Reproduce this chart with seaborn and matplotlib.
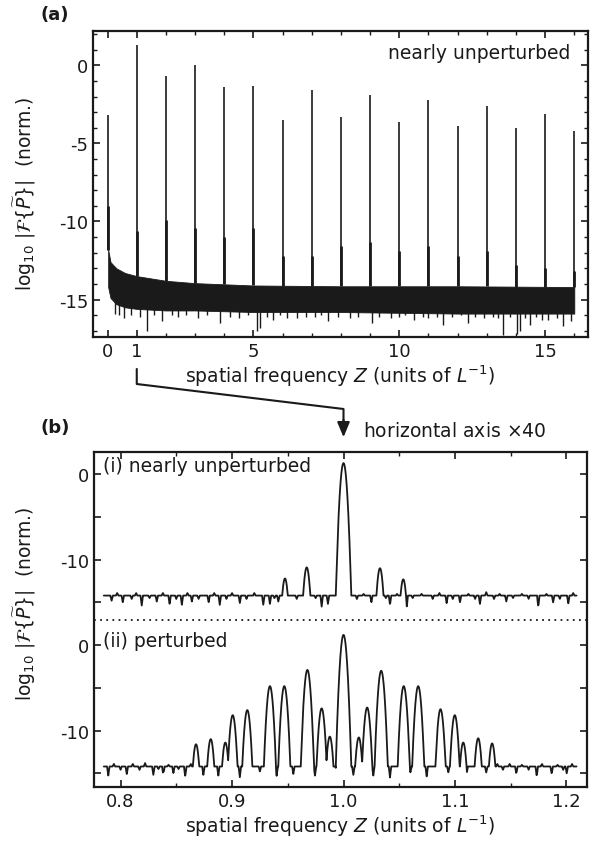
import numpy as np
import pandas as pd
import matplotlib
matplotlib.use('Agg')
import matplotlib.pyplot as plt
from matplotlib.lines import Line2D
from matplotlib.ticker import MultipleLocator, FixedLocator, FixedFormatter
import seaborn as sns

# ---- (a) full spectrum: comb peaks at integer Z ----
peak_z = list(range(17))
peak_top = [-3.2, 1.3, -0.7, 0.0, -1.4, -1.3, -3.5, -1.6, -3.3, -1.9, -3.6,
            -2.2, -3.9, -2.6, -4.0, -3.1, -4.2]
peak_base = [-9.0, -10.6, -9.9, -10.4, -11.0, -10.4, -12.2, -12.2, -11.6, -11.3,
             -11.9, -11.6, -12.2, -11.9, -12.8, -13.0, -13.2]
# noise band (upper / lower envelope)
band_z = [0.02, 0.1, 0.3, 0.6, 1, 2, 3, 5, 8, 12, 16]
band_hi = [-11.8, -12.6, -13.0, -13.3, -13.5, -13.8, -13.95, -14.1, -14.15, -14.15, -14.2]
band_lo = [-14.2, -14.9, -15.3, -15.5, -15.6, -15.7, -15.7, -15.8, -15.8, -15.9, -15.9]
# downward spikes in the noise
spike_z = [0.26, 0.4, 0.55, 0.8, 1.1, 1.34, 1.6, 1.86, 2.2, 2.4, 2.7, 3.1, 3.4, 3.86,
           4.2, 4.5, 4.8, 5.11, 5.23, 5.45, 5.68, 5.9, 6.14, 6.48, 6.8, 7.1, 7.3, 7.57,
           7.9, 8.3, 8.6, 9.06, 9.3, 9.7, 10.0, 10.2, 10.49, 10.8, 11.0, 11.3, 11.51,
           11.8, 12.1, 12.37, 12.6, 12.9, 13.2, 13.4, 13.57, 13.8, 14.03, 14.14, 14.3,
           14.48, 14.7, 14.9, 15.1, 15.4, 15.63, 15.88]
spike_y = [-15.9, -16.0, -16.2, -16.0, -16.1, -17.0, -16.0, -16.4, -16.0, -16.1, -16.0,
           -16.2, -16.0, -16.5, -16.1, -16.2, -16.0, -17.0, -16.8, -16.1, -16.3, -16.0,
           -16.2, -16.2, -16.1, -16.1, -16.0, -16.4, -16.1, -16.2, -16.1, -16.5, -16.1,
           -16.2, -16.1, -16.0, -16.3, -16.1, -16.2, -16.1, -16.6, -16.1, -16.0, -16.5,
           -16.1, -16.2, -16.1, -16.2, -17.3, -16.1, -17.2, -17.0, -16.2, -16.6, -16.1,
           -16.3, -16.3, -16.2, -16.7, -16.4]

# ---- (b) zoom around Z = 1 ----
# (i) nearly unperturbed
unpert_z = [0.9475, 0.967, 1.0, 1.0327, 1.0536]
unpert_h = [-12.2, -10.9, 1.3, -11.0, -12.3]
unpert_dip_z = [0.792, 0.797, 0.802, 0.810, 0.814, 0.819, 0.826, 0.8325, 0.838, 0.844,
                0.850, 0.855, 0.860, 0.864, 0.870, 0.879, 0.884, 0.889, 0.895, 0.900,
                0.907, 0.913, 0.920, 0.928, 0.934, 0.938, 0.9415, 0.958, 0.975, 0.9804,
                0.986, 1.012, 1.018, 1.025, 1.038, 1.0417, 1.048, 1.0567, 1.062, 1.070,
                1.080, 1.086, 1.0925, 1.098, 1.1045, 1.112, 1.118, 1.1224, 1.128, 1.135,
                1.140, 1.146, 1.152, 1.160, 1.166, 1.1747, 1.182, 1.188, 1.194, 1.2016,
                1.206]
unpert_dip_y = [-14.8, -13.9, -15.0, -14.6, -13.9, -15.4, -14.5, -14.9, -13.9, -15.2,
                -14.6, -15.3, -13.9, -14.9, -14.6, -15.0, -13.9, -15.3, -14.6, -13.9,
                -15.1, -14.6, -13.9, -15.3, -15.2, -14.5, -14.9, -14.6, -14.5, -15.5,
                -15.2, -14.6, -14.0, -15.0, -14.5, -15.3, -14.0, -15.6, -14.5, -14.0,
                -14.6, -13.9, -15.1, -14.6, -15.0, -14.0, -14.6, -15.2, -13.8, -14.6,
                -14.0, -14.9, -14.5, -14.0, -14.6, -15.6, -14.0, -15.0, -14.6, -15.2,
                -13.9]
# (ii) perturbed
pert_z = [0.8677, 0.8809, 0.894, 0.9006, 0.9137, 0.934, 0.9469, 0.9676, 0.9804, 0.9877,
          1.0, 1.0137, 1.0212, 1.0338, 1.054, 1.067, 1.087, 1.0998, 1.1074, 1.1208, 1.1333]
pert_h = [-11.6, -11.0, -11.4, -8.2, -7.6, -4.8, -4.8, -2.9, -7.4, -10.7,
          1.2, -10.8, -7.3, -3.0, -4.8, -4.8, -7.5, -8.2, -11.4, -10.9, -11.5]
pert_dip_z = [0.789, 0.794, 0.800, 0.8056, 0.811, 0.817, 0.822, 0.8294, 0.834, 0.8384,
              0.843, 0.8474, 0.852, 0.858, 0.863, 0.8743, 0.8877, 0.907, 0.925, 0.940,
              0.955, 0.9744, 0.9939, 1.0088, 1.0267, 1.0417, 1.060, 1.0746, 1.094,
              1.1105, 1.128, 1.138, 1.143, 1.149, 1.155, 1.160, 1.166, 1.1733, 1.178,
              1.1867, 1.192, 1.197, 1.2002, 1.205]
pert_dip_y = [-15.3, -13.9, -14.6, -15.1, -13.9, -14.6, -13.8, -15.2, -14.5, -15.4,
              -14.0, -15.0, -14.5, -15.4, -13.9, -15.2, -15.3, -15.5, -14.8, -15.3,
              -15.1, -15.3, -15.0, -15.2, -15.3, -15.5, -14.9, -15.4, -14.9, -15.0,
              -14.9, -13.9, -14.6, -13.9, -15.1, -14.0, -14.6, -15.4, -13.9, -15.1,
              -14.0, -14.6, -15.0, -13.9]
floor_level = -14.2
offset_i = 20          # trace (i) is shifted up by 20 decades
sep_y = 2.9            # dotted separator

sns.set_theme(style='ticks')
plt.rcParams.update({
    'font.family': ['DejaVu Sans'],
    'mathtext.fontset': 'dejavusans',
    'axes.unicode_minus': False,
    'font.size': 13,
    'text.color': 'k', 'axes.labelcolor': 'k', 'axes.edgecolor': 'k',
    'xtick.color': 'k', 'ytick.color': 'k',
    'axes.linewidth': 1.6,
    'xtick.direction': 'in', 'ytick.direction': 'in',
    'xtick.top': True, 'ytick.right': True,
    'xtick.major.size': 5, 'ytick.major.size': 5,
    'xtick.minor.size': 3, 'ytick.minor.size': 3,
    'xtick.major.width': 1.2, 'ytick.major.width': 1.2,
    'xtick.minor.width': 1.0, 'ytick.minor.width': 1.0,
    'xtick.labelsize': 13, 'ytick.labelsize': 13,
    'axes.labelsize': 13.5,
})

W, H = 593, 845
fig = plt.figure(figsize=(W / 100, H / 100), dpi=100)
ax_a = fig.add_axes([93 / W, 1 - 338 / H, 495 / W, 306 / H])
ax_b = fig.add_axes([94 / W, 1 - 788 / H, 493 / W, 335 / H])

ylab = r'$\log_{10}\,|\mathcal{F}\{\widetilde{P}\}|$  (norm.)'
xlab = r'spatial frequency $Z$ (units of $L^{\mathregular{-1}}$)'

# ---------- panel (a) ----------
ax_a.fill_between(band_z, band_lo, band_hi, color='k', lw=0.6)
lo_at = np.interp(spike_z, band_z, band_lo)
ax_a.vlines(spike_z, lo_at + 0.2, spike_y, color='k', lw=1.0)
fl_at = np.interp(peak_z, band_z, band_hi)
ax_a.vlines(peak_z, fl_at, peak_top, color='k', lw=1.2)
ax_a.vlines(peak_z, fl_at, peak_base, color='k', lw=2.0)
ax_a.set_xlim(-0.5, 16.47)
ax_a.set_ylim(-17.4, 2.2)
ax_a.xaxis.set_major_locator(FixedLocator([0, 1, 5, 10, 15]))
ax_a.xaxis.set_minor_locator(MultipleLocator(1))
ax_a.yaxis.set_major_locator(MultipleLocator(5))
ax_a.yaxis.set_minor_locator(MultipleLocator(1))
ax_a.set_xlabel(xlab, labelpad=2)
ax_a.set_ylabel(ylab)
ax_a.yaxis.set_label_coords(-0.112, 0.47)
ax_a.text(0.964, 0.93, 'nearly unperturbed', transform=ax_a.transAxes,
          ha='right', va='center', fontsize=13.5)

# ---------- panel (b) ----------
zz = np.linspace(0.785, 1.209, 4000)
curv = 3.2e5


def build_trace(pz, ph, dz, dy):
    y = np.full_like(zz, floor_level)
    for c, d in zip(dz, dy):
        v = d + np.abs(zz - c) / 0.0011 * (floor_level - d)
        y = np.minimum(y, v) if d < floor_level else np.maximum(y, v)
    for c, h in zip(pz, ph):
        y = np.maximum(y, h - curv * (zz - c) ** 2)
    return y


trace_i = build_trace(unpert_z, unpert_h, unpert_dip_z, unpert_dip_y) + offset_i
trace_ii = build_trace(pert_z, pert_h, pert_dip_z, pert_dip_y)
df_b = pd.DataFrame({
    'Z': np.concatenate([zz, zz]),
    'val': np.concatenate([trace_i, trace_ii]),
    'trace': ['i'] * len(zz) + ['ii'] * len(zz),
})
sns.lineplot(data=df_b, x='Z', y='val', units='trace', estimator=None,
             color='k', lw=1.3, sort=False, ax=ax_b)
ax_b.axhline(sep_y, color='k', lw=1.3, ls=(0, (1, 2.4)))
ax_b.set_xlim(0.7762, 1.2184)
ax_b.set_ylim(-16.6, 22.6)
ax_b.xaxis.set_major_locator(MultipleLocator(0.1))
ax_b.xaxis.set_minor_locator(MultipleLocator(0.05))
ax_b.xaxis.set_major_formatter(matplotlib.ticker.FormatStrFormatter('%.1f'))
yt = [-15, -10, -5, 0, 5, 10, 15, 20]
ax_b.yaxis.set_major_locator(FixedLocator(yt))
ax_b.yaxis.set_major_formatter(FixedFormatter(['', '-10', '', '0', '', '-10', '', '0']))
ax_b.set_xlabel(xlab, labelpad=2)
ax_b.set_ylabel(ylab)
ax_b.yaxis.set_label_coords(-0.114, 0.55)
ax_b.text(0.018, 0.961, '(i) nearly unperturbed', transform=ax_b.transAxes,
          ha='left', va='center', fontsize=13.5)
ax_b.text(0.018, 0.436, '(ii) perturbed', transform=ax_b.transAxes,
          ha='left', va='center', fontsize=13.5)

# ---------- labels and connecting arrow ----------
fig.text(55 / W, 1 - 15 / H, '(a)', fontweight='bold', ha='center', va='center', fontsize=13)
fig.text(55 / W, 1 - 428 / H, '(b)', fontweight='bold', ha='center', va='center', fontsize=13)
fig.text(363 / W, 1 - 432 / H, r'horizontal axis $\times$40', ha='left', va='center',
         fontsize=13.5)

xa = ax_a.transData.transform((1, 0))[0] / (W)
xb = ax_b.transData.transform((1.0, 0))[0] / (W)
fig.add_artist(Line2D([xa, xa, xb, xb], [1 - 370 / H, 1 - 385 / H, 1 - 410 / H, 1 - 425 / H],
                      color='k', lw=1.5))
fig.add_artist(matplotlib.patches.FancyArrowPatch(
    (xb, 1 - 418 / H), (xb, 1 - 441 / H), transform=fig.transFigure,
    arrowstyle='-|>,head_length=6,head_width=2.5', color='k', lw=1.5, mutation_scale=1.5))

fig.savefig('out.png', dpi=100)
